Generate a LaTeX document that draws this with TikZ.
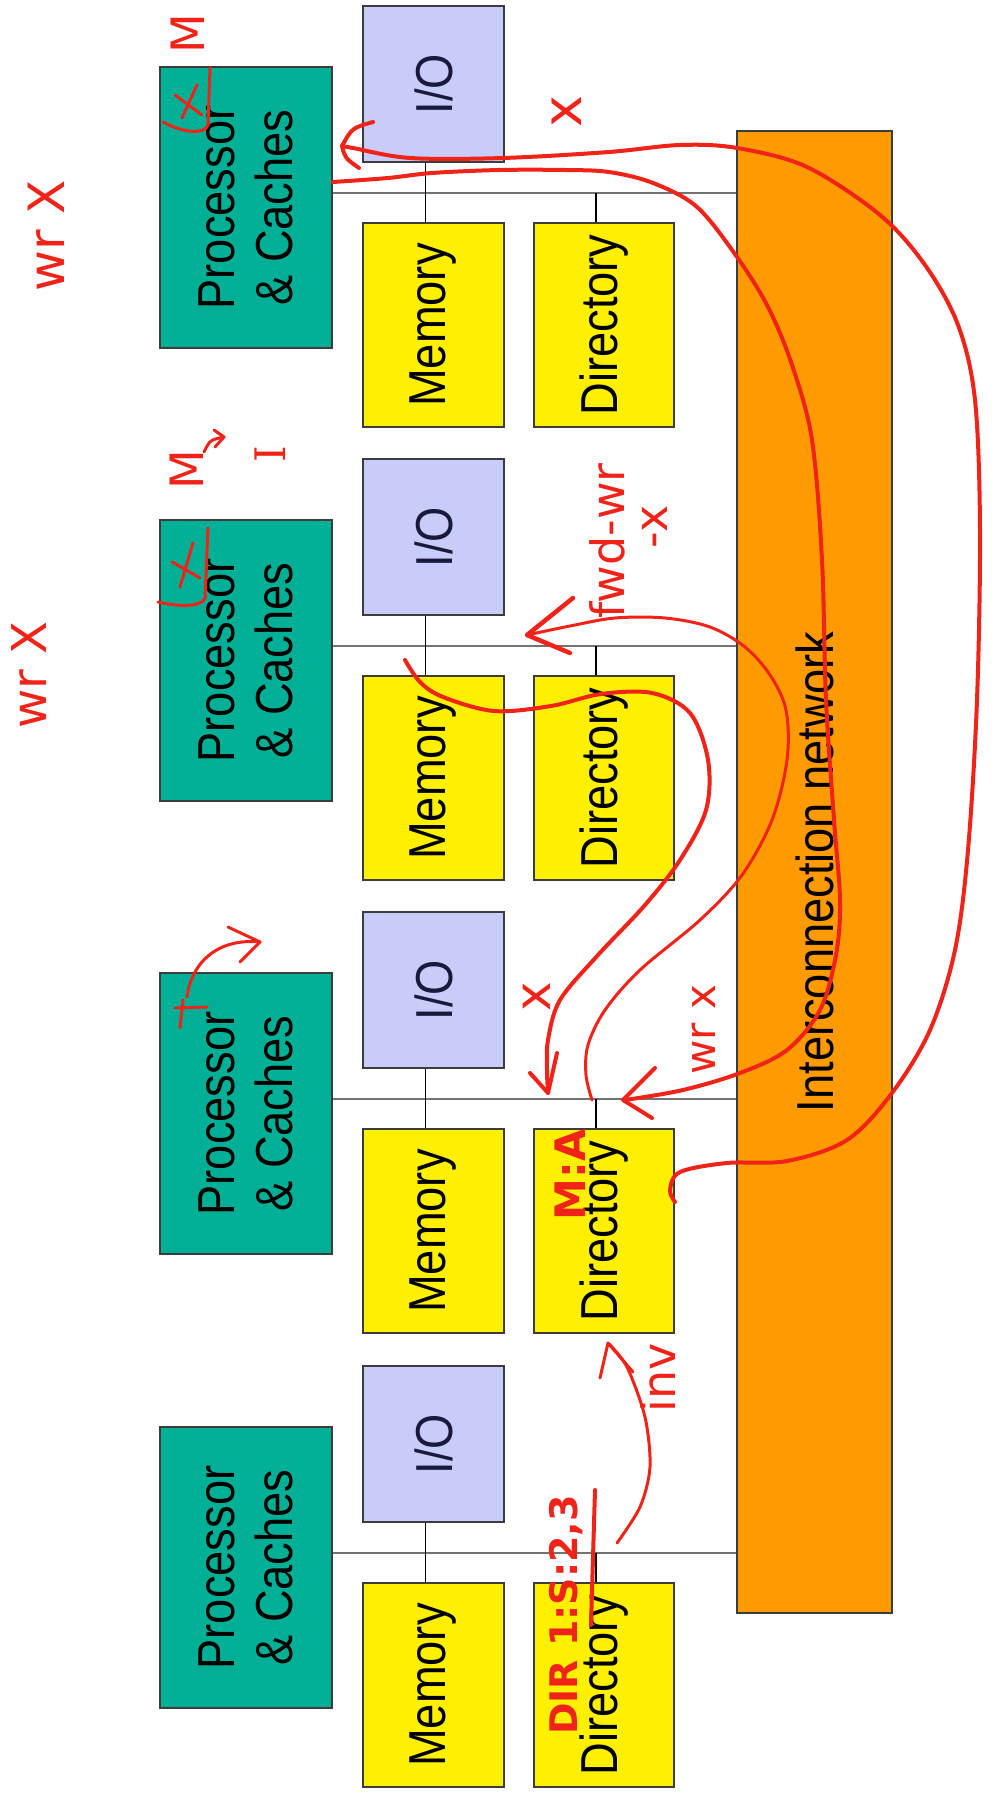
\documentclass[tikz,border=0pt]{standalone}
\usepackage{fontspec}
\setmainfont{Liberation Sans}
\newfontfamily\slidefont[FakeStretch=0.87]{Liberation Sans}
\newfontfamily\handfont{DejaVu Sans}
\newfontfamily\handserif{DejaVu Serif}
\usetikzlibrary{arrows.meta}

\definecolor{proccol}{RGB}{0,176,150}
\definecolor{iocol}{RGB}{200,204,250}
\definecolor{memcol}{RGB}{255,240,0}
\definecolor{netcol}{RGB}{255,155,0}
\definecolor{inkred}{RGB}{240,35,25}
\definecolor{edgecol}{RGB}{60,60,60}
\definecolor{iotext}{RGB}{25,25,60}

\tikzset{
  unit/.style={draw=edgecol, line width=1.3pt, inner sep=0pt},
  procbox/.style={unit, fill=proccol, minimum width=172pt, minimum height=281pt},
  iobox/.style={unit, fill=iocol, minimum width=141pt, minimum height=156pt},
  membox/.style={unit, fill=memcol, minimum width=141pt, minimum height=204pt},
  dirbox/.style={unit, fill=memcol, minimum width=140pt, minimum height=204pt},
  netbox/.style={unit, fill=netcol, minimum width=155pt, minimum height=1482pt},
  boxtext/.style={rotate=90, inner sep=0pt, align=center,
    font=\slidefont\fontsize{52}{58}\selectfont},
  bus/.style={draw=black!55, line width=1.8pt},
  link/.style={draw=black, line width=1.1pt},
  ink/.style={draw=inkred, line width=4pt, line cap=round, line join=round},
  inkthin/.style={ink, line width=3pt},
  note/.style={rotate=90, inner sep=0pt, text=inkred,
    font=\handfont\fontsize{#1}{#1}\selectfont},
  boldnote/.style={rotate=90, inner sep=0pt, text=inkred,
    font=\handfont\bfseries\fontsize{#1}{#1}\selectfont},
}

\begin{document}
\begin{tikzpicture}[x=1pt, y=-1pt]
  \useasboundingbox (0,0) rectangle (992,1798);
  \fill[white] (0,0) rectangle (992,1798);

  % interconnection network
  \node[netbox] (net) at (814.5,872) {};
  \node[boxtext] (nett) at (net) {Interconnection network};

  % the four nodes of the machine
  \foreach \k/\P in {1/67, 2/520, 3/973, 4/1427} {
    \node[procbox] (p\k) at (246,{\P+140.5}) {};
    \node[boxtext] (pt\k) at (p\k) {Processor\\\& Caches};
    \node[iobox] (io\k) at (433.5,{\P+17}) {};
    \node[boxtext, text=iotext] (iot\k) at (io\k) {I/O};
    \node[membox] (m\k) at (433.5,{\P+258}) {};
    \node[boxtext] (mt\k) at (m\k) {Memory};
    \node[dirbox] (d\k) at (604,{\P+258}) {};
    \node[boxtext] (dt\k) at (d\k) {Directory};
    \coordinate (bus\k) at (0,{\P+126});
    \draw[bus] (p\k.east |- bus\k) -- (net.west |- bus\k);
    \draw[link] ([xshift=-8pt]io\k.south) -- ([xshift=-8pt]m\k.north);
    \draw[link] ([xshift=-8pt]d\k.north) -- ([xshift=-8pt]d\k.north |- bus\k);
  }

  % ---- handwritten notes ----
  \node[note=50] (wr1) at (46,236) {wr X};
  \node[note=48] (wr2) at (29,675) {wr X};
  \node[note=46] (st1) at (188,34) {M};
  \node[note=46] (st2) at (187,470) {M};
  \draw[inkthin] (204,452) .. controls (210,440) .. (224,437);
  \draw[inkthin] (214,430) -- (224,437) -- (215,447);
  \node[rotate=90, inner sep=0pt, text=inkred,
        font=\handserif\fontsize{42}{42}\selectfont] (st3) at (270,454) {I};

  % crossed-out copies in processors 1 and 2
  \draw[inkthin] (175,95) -- (202,115) (197,85) -- (182,118);
  \draw[inkthin] (210,68) -- (208,125) .. controls (205,134) and (185,134) .. (163,122);
  \draw[inkthin] (172,562) -- (200,578) (193,543) -- (180,587);
  \draw[inkthin] (208,528) -- (205,598) .. controls (202,607) and (180,607) .. (158,602);

  % processor 3 mark
  \draw[inkthin] (175,1008) -- (207,1007) (183,1000) -- (180,1028);
  \draw[inkthin] (187,997) .. controls (192,960) and (220,938) .. (260,942);
  \draw[inkthin] (228,927) -- (260,942) -- (240,962);

  % data x back to processor 1
  \draw[ink] plot[smooth, tension=0.55] coordinates {(675,1202) (670,1190) (680,1172)
    (727,1163) (787,1161) (847,1140) (892,1093) (930,1030) (955,950) (968,850)
    (977,700) (980,530) (975,400) (958,325) (925,265) (880,215) (807,167) (737,148)
    (680,145) (609,152) (503,158) (410,158) (353,148) (342,146)};
  \draw[ink] (373,122) .. controls (352,128) .. (342,146) .. controls (345,158) .. (359,168);
  \node[note=54] (lx1) at (567,112) {x};

  % write request to the home directory
  \draw[ink] plot[smooth, tension=0.55] coordinates {(333,182) (388,178) (432,173)
    (499,170) (565,170) (609,172) (653,183) (697,207) (737,257) (768,307) (792,365)
    (812,440) (822,560) (826,700) (834,820) (840,900) (836,955) (820,1010) (787,1050)
    (740,1073) (683,1090) (625,1100)};
  \draw[ink] (655,1068) -- (623,1100) -- (652,1118);
  \node[note=42] (wrx3) at (704,1030) {wr x};

  % forwarded write to processor 2
  \draw[inkthin] plot[smooth, tension=0.55] coordinates {(592,1100) (586,1075)
    (588,1045) (605,1010) (640,970) (700,920) (742,875) (772,820) (787,760)
    (786,710) (770,675) (745,647) (710,627) (665,618) (615,618) (570,626) (527,635)};
  \draw[ink, line width=4.5pt] (573,598) -- (527,635) -- (570,653);
  \node[note=46] (fwd) at (607,541) {fwd-wr};
  \node[note=46] (fwdx) at (655,527) {-x};

  % data x from processor 2 to the directory
  \draw[ink] plot[smooth, tension=0.55] coordinates {(405,660) (420,682) (443,697)
    (494,711) (551,706) (601,694) (652,693) (690,713) (708,760) (706,810) (680,860)
    (645,905) (598,955) (560,1000) (548,1040) (547,1070) (548,1093)};
  \draw[ink] (530,1073) -- (548,1093) -- (557,1053);
  \node[note=50] (lx2) at (537,997) {x};

  % directory states
  \node[boldnote=42] (dirm) at (570,1175) {M:A};
  \node[boldnote=38] (dirs) at (566,1615) {DIR 1:S:2,3};
  \draw[ink] (595,1490) -- (591,1625);

  % invalidation
  \draw[inkthin] plot[smooth] coordinates {(617,1543) (640,1507)
    (650,1467) (645,1417) (627,1367) (609,1344)};
  \draw[inkthin] (600,1378) -- (608,1343) -- (633,1372);
  \node[note=46] (inv) at (658,1378) {inv};
\end{tikzpicture}
\end{document}
